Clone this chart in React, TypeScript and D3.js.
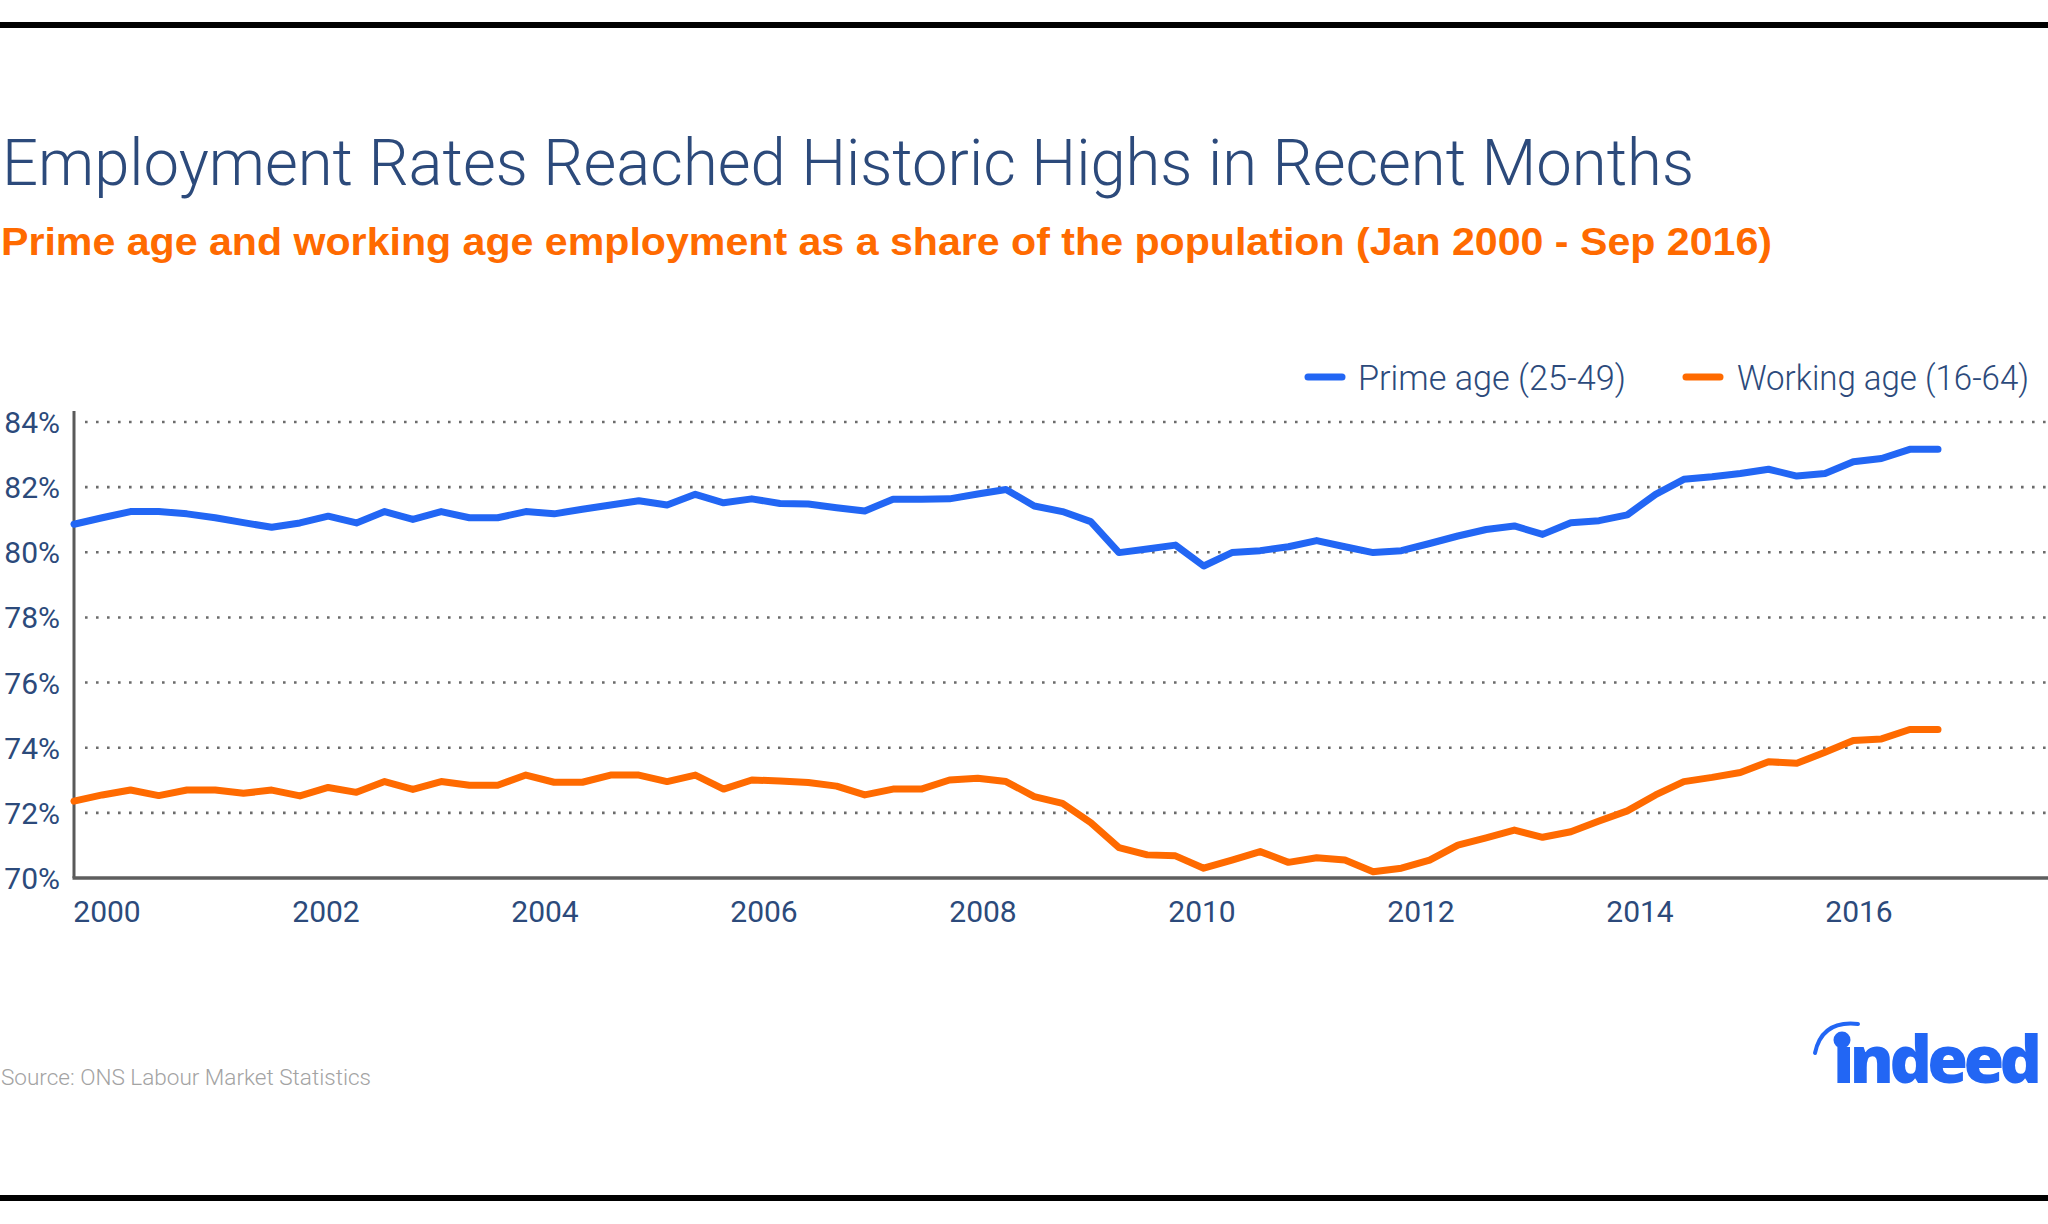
import React, { useEffect } from "react";
import * as d3 from "d3";

const quarters: string[] = [];
for (let y = 2000; y <= 2016; y++) {
  for (let q = 1; q <= 4; q++) {
    if (y === 2016 && q > 3) break;
    quarters.push(`${y} Q${q}`);
  }
}

const primeAge = [
  80.86, 81.06, 81.25, 81.25, 81.18, 81.06, 80.91, 80.77, 80.9, 81.11, 80.9, 81.25, 81.01, 81.25, 81.06, 81.06,
  81.25, 81.18, 81.32, 81.45, 81.58, 81.45, 81.78, 81.52, 81.64, 81.5, 81.48, 81.37, 81.27, 81.63, 81.63, 81.64,
  81.79, 81.93, 81.42, 81.25, 80.94, 79.99, 80.1, 80.22, 79.58, 79.99, 80.05, 80.17, 80.36, 80.17, 79.99, 80.05,
  80.27, 80.5, 80.7, 80.81, 80.55, 80.91, 80.97, 81.15, 81.78, 82.24, 82.32, 82.42, 82.55, 82.34, 82.42, 82.78,
  82.88, 83.16, 83.16,
];

const workingAge = [
  72.36, 72.55, 72.7, 72.53, 72.7, 72.7, 72.6, 72.7, 72.52, 72.78, 72.63, 72.96, 72.72, 72.96, 72.85, 72.85,
  73.16, 72.94, 72.94, 73.16, 73.16, 72.96, 73.16, 72.73, 73.01, 72.98, 72.93, 72.82, 72.55, 72.73, 72.73, 73.01,
  73.06, 72.96, 72.5, 72.29, 71.7, 70.93, 70.71, 70.68, 70.3, 70.55, 70.81, 70.48, 70.62, 70.55, 70.19, 70.3,
  70.55, 71.01, 71.23, 71.47, 71.25, 71.42, 71.75, 72.06, 72.55, 72.96, 73.09, 73.24, 73.57, 73.52, 73.86, 74.22,
  74.27, 74.56, 74.56,
];

const yTicks = [70, 72, 74, 76, 78, 80, 82, 84];
const xTickYears = [2000, 2002, 2004, 2006, 2008, 2010, 2012, 2014, 2016];

const seriesNames = ["Prime age (25-49)", "Working age (16-64)"];

const NAVY = "#2c4a7b";
const BLUE = "#2266f4";
const ORANGE = "#ff6a00";

export default function App() {
  useEffect(() => {
    document.body.style.margin = "0";
  }, []);

  const W = 2048;
  const H = 1224;
  const axisX = 74;
  const x = d3.scalePoint<string>().domain(quarters).range([axisX, 1938]);
  const y = d3.scaleLinear().domain([70, 84]).range([878, 422]);
  const yearX = d3.scaleLinear().domain([2000, 2016]).range([107, 1859]);

  const line = d3
    .line<number>()
    .x((_, i) => x(quarters[i]) as number)
    .y((d) => y(d));

  const sans = "'Liberation Sans', Arial, Helvetica, sans-serif";
  const light = "Roboto, 'Liberation Sans', sans-serif";

  return (
    <svg width={W} height={H} viewBox={`0 0 ${W} ${H}`} style={{ display: "block", position: "absolute", left: 0, top: 0 }}>
      <rect x={0} y={0} width={W} height={H} fill="#ffffff" />
      <rect x={0} y={22} width={W} height={6} fill="#000" />
      <rect x={0} y={1195} width={W} height={6} fill="#000" />

      <text x={2} y={185} fontFamily={light} fontWeight={300} fontSize={65} fill={NAVY} textLength={1692} lengthAdjust="spacingAndGlyphs">
        Employment Rates Reached Historic Highs in Recent Months
      </text>
      <text x={1} y={255} fontFamily={sans} fontWeight={700} fontSize={39} fill={ORANGE} textLength={1771} lengthAdjust="spacingAndGlyphs">
        Prime age and working age employment as a share of the population (Jan 2000 - Sep 2016)
      </text>

      {/* legend */}
      <line x1={1308} x2={1342} y1={377} y2={377} stroke={BLUE} strokeWidth={7} strokeLinecap="round" />
      <text x={1358} y={390} fontFamily={light} fontWeight={300} fontSize={35} fill={NAVY} textLength={268} lengthAdjust="spacingAndGlyphs">
        {seriesNames[0]}
      </text>
      <line x1={1686} x2={1720} y1={377} y2={377} stroke={ORANGE} strokeWidth={7} strokeLinecap="round" />
      <text x={1737} y={390} fontFamily={light} fontWeight={300} fontSize={35} fill={NAVY} textLength={292} lengthAdjust="spacingAndGlyphs">
        {seriesNames[1]}
      </text>

      {/* gridlines */}
      {yTicks
        .filter((t) => t !== 70)
        .map((t) => (
          <line key={t} x1={85} x2={W} y1={y(t)} y2={y(t)} stroke="#6b6b6b" strokeWidth={2.6} strokeDasharray="2.6 8.4" />
        ))}

      {/* axes */}
      <line x1={axisX} x2={axisX} y1={411} y2={y(70)} stroke="#5a5a5a" strokeWidth={3} />
      <line x1={axisX - 1.5} x2={W} y1={y(70)} y2={y(70)} stroke="#5e5e5e" strokeWidth={3.5} />

      {yTicks.map((t) => (
        <text key={t} x={60} y={y(t) + 11} textAnchor="end" fontFamily={light} fontWeight={400} fontSize={30} fill={NAVY}>
          {`${t}%`}
        </text>
      ))}
      {xTickYears.map((yr) => (
        <text key={yr} x={yearX(yr)} y={922} textAnchor="middle" fontFamily={light} fontWeight={400} fontSize={30} fill={NAVY}>
          {yr}
        </text>
      ))}

      {/* series */}
      <path d={line(primeAge) || ""} fill="none" stroke={BLUE} strokeWidth={7} strokeLinejoin="round" strokeLinecap="round" />
      <path d={line(workingAge) || ""} fill="none" stroke={ORANGE} strokeWidth={7} strokeLinejoin="round" strokeLinecap="round" />

      {/* source */}
      <text x={1} y={1085} fontFamily={light} fontWeight={300} fontSize={22} fill="#a3a3a3" textLength={370} lengthAdjust="spacingAndGlyphs">
        Source: ONS Labour Market Statistics
      </text>

      {/* logo */}
      <g fill={BLUE}>
        <path d="M1815,1053 Q1822,1020 1858,1024" fill="none" stroke={BLUE} strokeWidth={4} strokeLinecap="round" />
        <circle cx={1842} cy={1040} r={8.5} />
        <text x={1833} y={1083} fontFamily="'Open Sans', 'Liberation Sans', sans-serif" fontWeight={800} fontSize={66} textLength={209} lengthAdjust="spacing">
          ındeed
        </text>
      </g>
    </svg>
  );
}
